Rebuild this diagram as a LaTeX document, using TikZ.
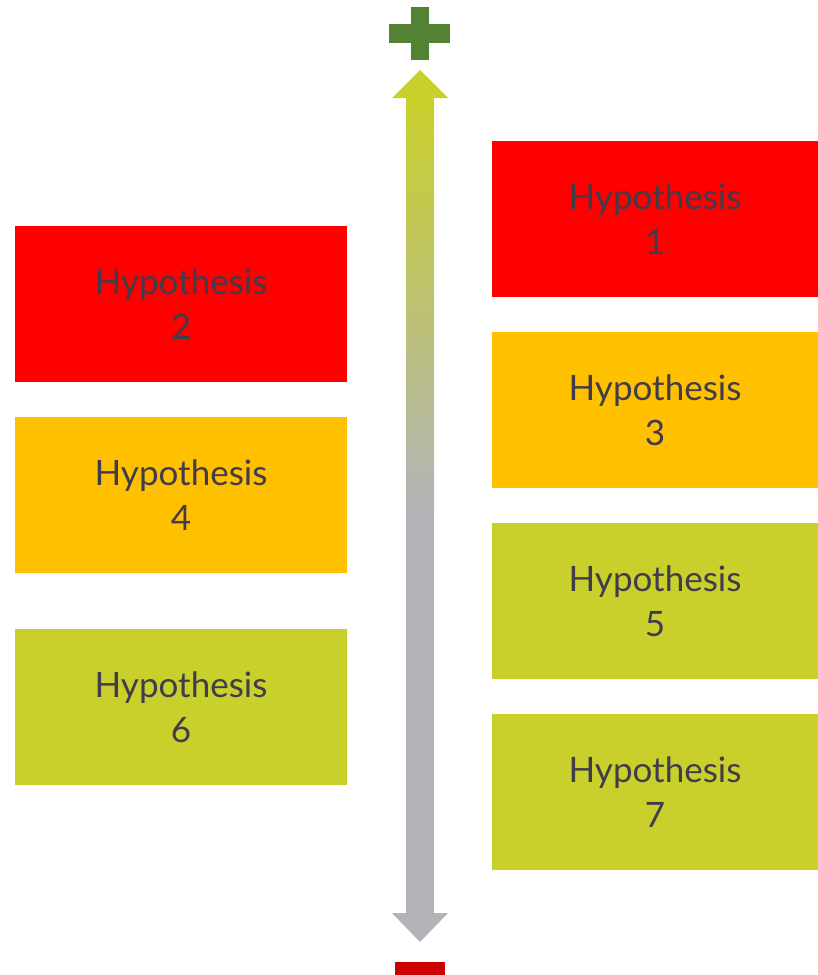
\documentclass[tikz,border=0pt]{standalone}
\usepackage{fontspec}
\setmainfont{Lato}
\definecolor{hred}{HTML}{FF0000}
\definecolor{horange}{HTML}{FFC000}
\definecolor{holive}{HTML}{C9D02B}
\definecolor{hgrey}{HTML}{B2B4B8}
\definecolor{htext}{HTML}{403C4C}
\definecolor{plusgreen}{HTML}{548235}
\definecolor{minusred}{HTML}{CC0000}
\tikzset{
  hyp/.style={rectangle, inner sep=0pt, outer sep=0pt, minimum height=156pt,
    text=htext, align=center, font=\fontsize{35}{45}\selectfont},
  hypR/.style={hyp, minimum width=326pt},
  hypL/.style={hyp, minimum width=332pt},
}
\begin{document}
\begin{tikzpicture}[x=1pt, y=-1pt]
  \useasboundingbox (0,0) rectangle (818,975);

  % right column
  \node[hypR, fill=hred]    (h1) at (655,219) {Hypothesis\\1};
  \node[hypR, fill=horange] (h3) at (655,410) {Hypothesis\\3};
  \node[hypR, fill=holive]  (h5) at (655,601) {Hypothesis\\5};
  \node[hypR, fill=holive]  (h7) at (655,792) {Hypothesis\\7};

  % left column
  \node[hypL, fill=hred]    (h2) at (181,304) {Hypothesis\\2};
  \node[hypL, fill=horange] (h4) at (181,495) {Hypothesis\\4};
  \node[hypL, fill=holive]  (h6) at (181,707) {Hypothesis\\6};

  % double-headed scale arrow
  \coordinate (top) at (420,70);
  \coordinate (bot) at (420,942);
  \shade[top color=holive, bottom color=hgrey] (406,97) rectangle (434,510);
  \fill[hgrey] (406,509) rectangle (434,914);
  \fill[holive] (top) -- (448,98) -- (392,98) -- cycle;
  \fill[hgrey] (bot) -- (448,913) -- (392,913) -- cycle;

  % plus and minus signs
  \fill[plusgreen] (411,7) rectangle (429,60);
  \fill[plusgreen] (389,24) rectangle (450,43);
  \fill[minusred] (395,962) rectangle (445,975);
\end{tikzpicture}
\end{document}
